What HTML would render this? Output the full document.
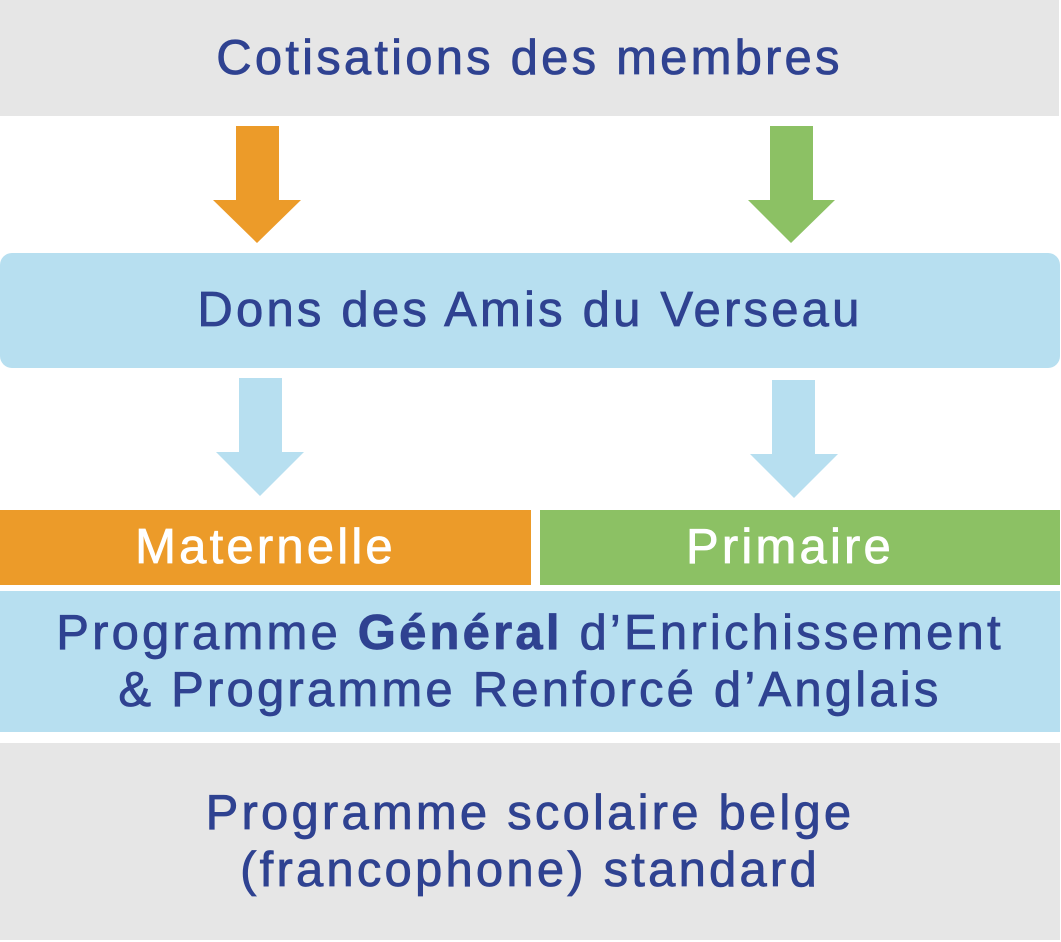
<!DOCTYPE html>
<html><head><meta charset="utf-8"><style>
html,body{margin:0;padding:0;}
body{width:1061px;height:942px;position:relative;background:#fff;overflow:hidden;font-family:"Liberation Sans",sans-serif;}
.b{position:absolute;display:flex;flex-direction:column;align-items:center;justify-content:center;text-align:center;font-size:49px;letter-spacing:3.2px;color:#2f4291;line-height:57px;-webkit-text-stroke:0.8px currentColor;}
.w{color:#fff;}
svg{position:absolute;left:0;top:0;}
</style></head><body>
<div class="b" style="left:0;top:0;width:1059px;height:116px;background:#e6e6e6;">Cotisations des membres</div>
<div class="b" style="left:0;top:253px;width:1060px;height:115px;background:#b7dff0;border-radius:12px;">Dons des Amis du Verseau</div>
<div class="b w" style="left:0;top:510px;width:531px;height:75px;background:#ec9b29;">Maternelle</div>
<div class="b w" style="left:540px;top:510px;width:500px;height:75px;background:#8cc164;padding-right:20px;">Primaire</div>
<div class="b" style="left:0;top:591px;width:1060px;height:141px;background:#b7dff0;"><div>Programme <b>Général</b> d’Enrichissement</div><div>&amp; Programme Renforcé d’Anglais</div></div>
<div class="b" style="left:0;top:743px;width:1060px;height:197px;background:#e6e6e6;"><div>Programme scolaire belge</div><div>(francophone) standard</div></div>
<svg width="1061" height="942">
<polygon points="236,126 279,126 279,200 301,200 257,243 213,200 236,200" fill="#ec9b29"/>
<polygon points="770,126 813,126 813,200 835,200 791,243 748,200 770,200" fill="#8cc164"/>
<polygon points="239,378 282,378 282,452 304,452 260,496 216,452 239,452" fill="#b7dff0"/>
<polygon points="772,380 815,380 815,454 838,454 794,498 750,454 772,454" fill="#b7dff0"/>
</svg>
</body></html>
